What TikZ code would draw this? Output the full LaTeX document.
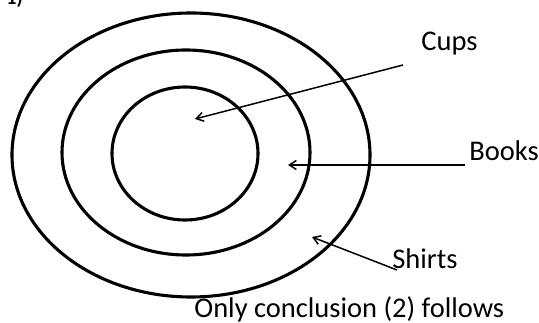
\documentclass[tikz,border=0pt]{standalone}
\usepackage{fontspec}
\setmainfont{Carlito}
\usetikzlibrary{arrows.meta}

\begin{document}
\begin{tikzpicture}[x=1pt, y=-1pt, >={Straight Barb[length=7pt,width=9pt]}, thick,
    lbl/.style={font=\fontsize{28.5}{33}\selectfont, inner sep=0pt, anchor=west}]
    \useasboundingbox (0,0) rectangle (539,323);

    % 三个同心椭圆
    \draw[line width=3.1pt] (191,155) ellipse [x radius=179, y radius=142];
    \draw[line width=3.1pt] (186,152.5) ellipse [x radius=124, y radius=102.5];
    \draw[line width=3.1pt] (185,153.5) ellipse [x radius=73, y radius=66.5];

    % 题号 (被裁掉一半)
    \node[font=\fontsize{20}{24}\bfseries\rmfamily, inner sep=0pt, anchor=base west] (num) at (6,5) {1)};

    % 标注文字
    \node[lbl] (cups) at (421,44) {Cups};
    \node[lbl] (books) at (469,151) {Books};
    \node[lbl] (shirts) at (392,259) {Shirts};
    \node[lbl] (concl) at (194,309) {Only conclusion (2) follows};

    % 箭头的两端
    \coordinate (c1) at (403,65);  \coordinate (c2) at (195,119);
    \coordinate (b1) at (465,165); \coordinate (b2) at (288,165);
    \coordinate (s1) at (397,270); \coordinate (s2) at (312,237);

    % 指向各区域的箭头
    \draw[->, line width=1.5pt] (c1) -- (c2);
    \draw[->, line width=1.5pt] (b1) -- (b2);
    \draw[->, line width=1.5pt] (s1) -- (s2);
\end{tikzpicture}
\end{document}
